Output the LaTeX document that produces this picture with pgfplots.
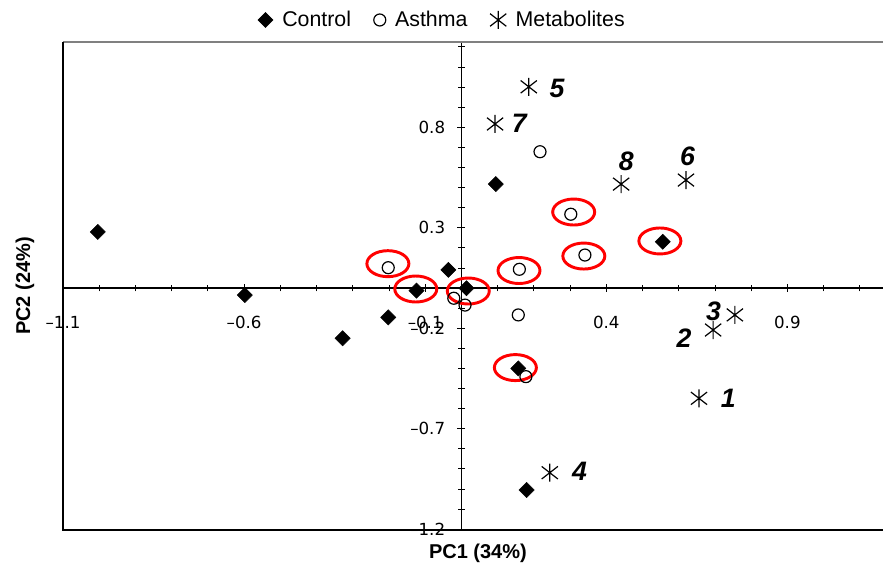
\documentclass[border=0pt]{standalone}
\usepackage{fontspec}
\setmainfont{Liberation Sans}
\newfontfamily\tickfont{DejaVu Sans}
\usepackage{pgfplots}
\pgfplotsset{compat=1.18}

% asterisk-like mark: vertical bar plus two steep diagonals
\pgfdeclareplotmark{metab}{%
  \pgfpathmoveto{\pgfqpoint{0pt}{\pgfplotmarksize}}%
  \pgfpathlineto{\pgfqpoint{0pt}{-\pgfplotmarksize}}%
  \pgfpathmoveto{\pgfqpoint{-0.9\pgfplotmarksize}{-0.7\pgfplotmarksize}}%
  \pgfpathlineto{\pgfqpoint{0.9\pgfplotmarksize}{0.7\pgfplotmarksize}}%
  \pgfpathmoveto{\pgfqpoint{-0.9\pgfplotmarksize}{0.7\pgfplotmarksize}}%
  \pgfpathlineto{\pgfqpoint{0.9\pgfplotmarksize}{-0.7\pgfplotmarksize}}%
  \pgfusepathqstroke}

\begin{document}
\begin{tikzpicture}
\begin{axis}[
    name=ax,
    scale only axis,
    width=615pt, height=366pt,
    xmin=-1.1, xmax=1.164, ymin=-1.204, ymax=1.224,
    axis lines=middle,
    axis line style={-, black, line width=0.8pt},
    xtick={-1.1,-0.6,-0.1,0.4,0.9},
    xticklabels={–1.1,–0.6,–0.1,0.4,0.9},
    minor xtick={-1.0,-0.9,...,1.1},
    ytick={-1.2,-0.7,-0.2,0.3,0.8},
    yticklabels={–1.2,–0.7,–0.2,0.3,0.8},
    minor ytick={-1.1,-1.0,...,1.2},
    tick align=center,
    major tick length=6pt, minor tick length=5pt,
    tick style={black, line width=0.6pt},
    ticklabel style={font=\tickfont\fontsize{12.5}{14}\selectfont},
    xticklabel style={anchor=center, yshift=-22.5pt},
    yticklabel style={anchor=east, inner sep=0pt, xshift=-9pt},
    clip=false,
    legend columns=3,
    legend style={at={(0.463,1)}, anchor=center, yshift=16.5pt,
        draw=none, fill=none, font=\fontsize{16}{19}\selectfont,
        /tikz/every odd column/.append style={column sep=5pt},
        /tikz/every even column/.append style={column sep=15pt}},
]
\addplot[only marks, mark=square*, mark size=4pt,
    mark options={rotate=45, fill=black, draw=black}] coordinates {
    (-1.004, 0.279) (-0.598, -0.035) (-0.328, -0.25) (-0.202, -0.146)
    (-0.124, -0.013) (-0.036, 0.09) (0.014, -0.001) (0.095, 0.517)
    (0.157, -0.4) (0.556, 0.23) (0.18, -1.005)
};
\addlegendentry{Control}

\addplot[only marks, mark=o, mark size=4.5pt,
    mark options={draw=black, line width=0.9pt}] coordinates {
    (-0.202, 0.101) (-0.021, -0.051) (0.01, -0.085) (0.16, 0.093)
    (0.157, -0.134) (0.178, -0.441) (0.217, 0.678) (0.302, 0.367)
    (0.341, 0.164)
};
\addlegendentry{Asthma}

\addplot[only marks, mark=metab, mark size=6.75pt,
    mark options={draw=black, line width=0.9pt}] coordinates {
    (0.186, 1.001) (0.093, 0.816) (0.441, 0.517) (0.62, 0.537)
    (0.755, -0.134) (0.695, -0.209) (0.656, -0.549) (0.244, -0.919)
};
\addlegendentry{Metabolites}

% metabolite numbers
\begin{scope}[every node/.style={font=\bfseries\itshape\fontsize{20}{24}\selectfont}]
\node at (axis cs:0.264, 0.994) {5};
\node at (axis cs:0.160, 0.819) {7};
\node at (axis cs:0.455, 0.628) {8};
\node at (axis cs:0.624, 0.653) {6};
\node at (axis cs:0.696, -0.118) {3};
\node at (axis cs:0.615, -0.249) {2};
\node at (axis cs:0.737, -0.549) {1};
\node at (axis cs:0.326, -0.914) {4};
\end{scope}

% red rings
\begin{scope}[red, line width=2.2pt]
\draw (axis cs:-0.203, 0.121) ellipse (15.75pt and 9.75pt);
\draw (axis cs:-0.126, -0.005) ellipse (15.75pt and 9.75pt);
\draw (axis cs:0.019, -0.015) ellipse (15.75pt and 9.75pt);
\draw (axis cs:0.159, 0.087) ellipse (15.75pt and 9.75pt);
\draw (axis cs:0.149, -0.396) ellipse (15.75pt and 9.75pt);
\draw (axis cs:0.31, 0.378) ellipse (15.75pt and 9.75pt);
\draw (axis cs:0.338, 0.159) ellipse (15.75pt and 9.75pt);
\draw (axis cs:0.548, 0.234) ellipse (15.75pt and 9.75pt);
\end{scope}

% frame (no right edge)
\draw[gray, line width=1pt] (rel axis cs:0,1) -- (rel axis cs:1,1);
\draw[black, line width=1pt] (rel axis cs:0,1) -- (rel axis cs:0,0) -- (rel axis cs:1,0);

\node[font=\bfseries\fontsize{15}{18}\selectfont]
    at ([yshift=-17.25pt]rel axis cs:0.506,0) {PC1 (34\%)};
\node[font=\bfseries\fontsize{15}{18}\selectfont, rotate=90]
    at ([xshift=-28.5pt]rel axis cs:0,0.5) {PC2 (24\%)};
\end{axis}
\pgfresetboundingbox
\path ([xshift=-47.25pt,yshift=-27pt]ax.south west) rectangle ([yshift=31.5pt]ax.north east);
\end{tikzpicture}
\end{document}
